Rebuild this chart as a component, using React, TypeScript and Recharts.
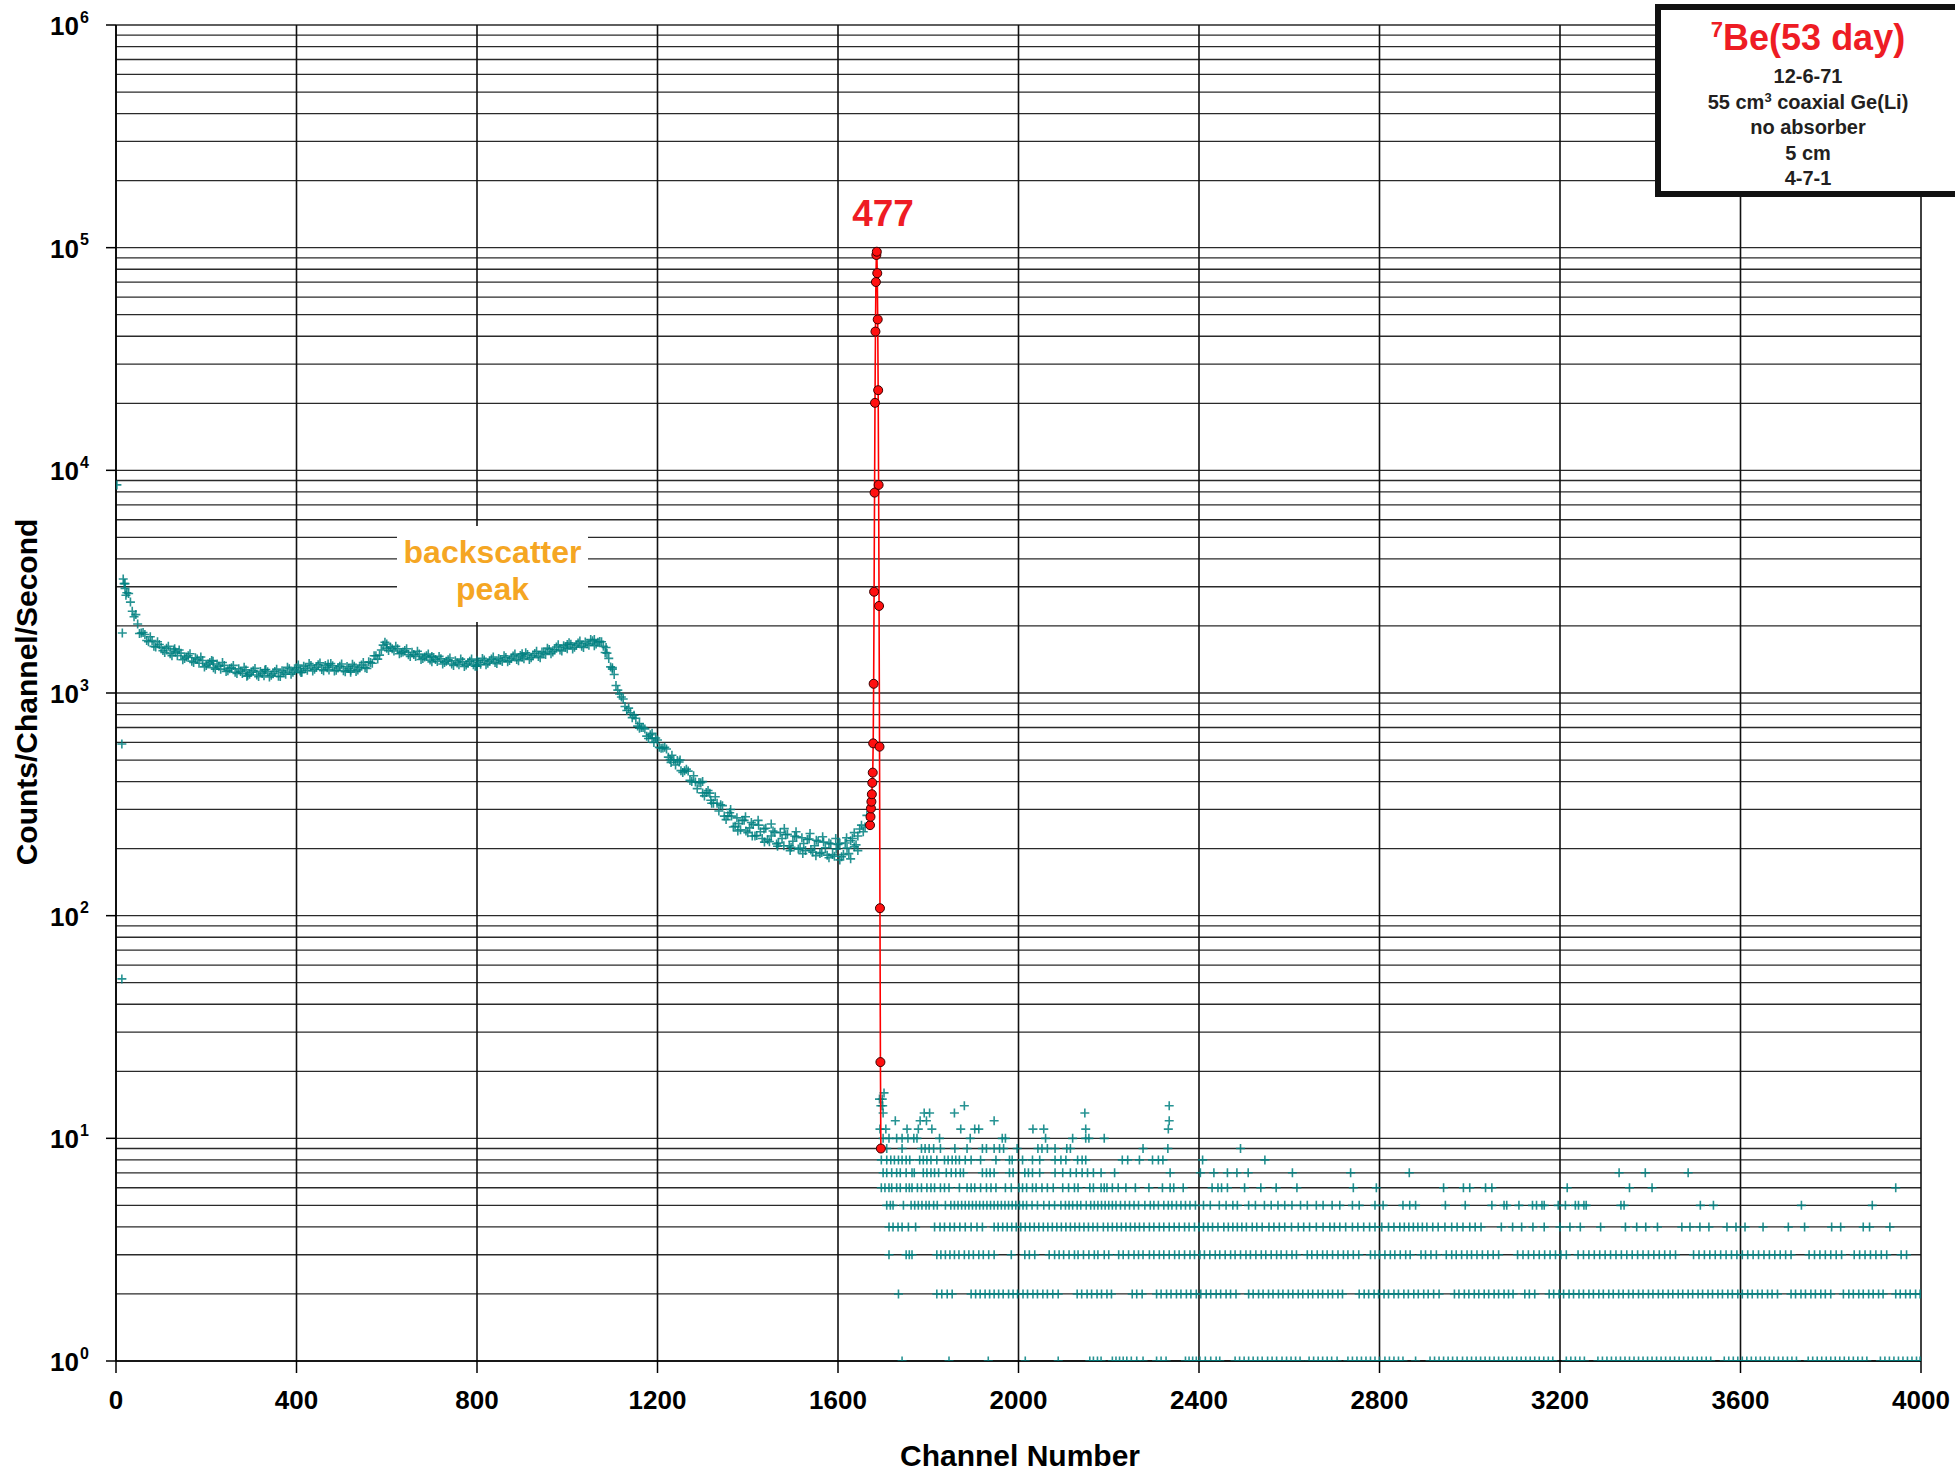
import { ComposedChart, Scatter, XAxis, YAxis, CartesianGrid } from 'recharts'

// continuum, one reading every 8 channels from channel 16
const contStart = 16
const contStep = 8
const contCounts = [
  3250, 2820, 2560, 2200, 2040, 1860, 1830, 1700, 1720, 1610, 1650, 1550, 1590, 1500, 1560, 1470, 1510, 1430, 1470, 1390,
  1440, 1360, 1400, 1330, 1370, 1300, 1350, 1280, 1330, 1260, 1300, 1240, 1285, 1225, 1270, 1215, 1260, 1205, 1250, 1195,
  1245, 1200, 1250, 1190, 1260, 1215, 1285, 1240, 1300, 1255, 1320, 1265, 1330, 1280, 1340, 1275, 1330, 1270, 1325, 1265,
  1320, 1260, 1315, 1265, 1320, 1270, 1335, 1300, 1380, 1360, 1470, 1480, 1640, 1590, 1610, 1545, 1580, 1515, 1550, 1485,
  1525, 1460, 1495, 1430, 1470, 1405, 1445, 1385, 1425, 1370, 1410, 1350, 1395, 1340, 1385, 1335, 1390, 1340, 1395, 1345,
  1405, 1360, 1420, 1370, 1430, 1385, 1445, 1400, 1465, 1415, 1475, 1425, 1490, 1440, 1505, 1460, 1530, 1490, 1570, 1530,
  1610, 1560, 1630, 1580, 1655, 1605, 1675, 1620, 1695, 1640, 1715, 1660, 1705, 1620, 1510, 1310, 1210, 1030, 960, 870,
  855, 775, 770, 695, 700, 640, 650, 600, 615, 565, 570, 515, 525, 475, 490, 440, 455, 405, 425, 372,
  395, 345, 365, 320, 342, 295, 312, 270, 290, 250, 275, 243, 268, 236, 262, 228, 255, 222, 247, 215,
  240, 210, 236, 206, 232, 203, 228, 199, 224, 196, 221, 193, 218, 190, 214, 187, 210, 185, 209, 184,
  212, 190, 222, 208, 245, 238, 282,
]

// second pass of readings, offset by 4 channels (from channel 20)
const contStartB = 20
const contCountsB = [
  3100, 2800, 2330, 2250, 1850, 1870, 1720, 1790, 1620, 1700, 1600, 1520, 1620, 1470, 1530, 1560, 1410, 1450, 1500, 1370,
  1420, 1450, 1310, 1350, 1400, 1280, 1320, 1370, 1250, 1285, 1330, 1225, 1250, 1305, 1200, 1240, 1290, 1185, 1225, 1275,
  1180, 1220, 1280, 1185, 1240, 1305, 1215, 1270, 1335, 1240, 1290, 1355, 1255, 1305, 1365, 1260, 1300, 1355, 1255, 1295,
  1350, 1245, 1290, 1345, 1250, 1300, 1370, 1290, 1370, 1470, 1420, 1560, 1690, 1550, 1580, 1620, 1500, 1530, 1580, 1460,
  1490, 1540, 1415, 1450, 1495, 1380, 1415, 1460, 1350, 1390, 1435, 1330, 1365, 1420, 1315, 1360, 1420, 1320, 1370, 1430,
  1340, 1390, 1450, 1355, 1405, 1470, 1380, 1430, 1495, 1395, 1450, 1515, 1415, 1470, 1540, 1440, 1510, 1590, 1500, 1565,
  1645, 1545, 1605, 1680, 1575, 1640, 1710, 1600, 1665, 1740, 1630, 1690, 1700, 1520, 1430, 1300, 1080, 990, 940, 835,
  815, 795, 710, 700, 690, 625, 627, 628, 570, 566, 560, 503, 500, 498, 448, 447, 446, 400, 398, 396,
  356, 357, 355, 320, 320, 315, 280, 281, 280, 252, 259, 268, 240, 248, 257, 229, 238, 245, 219, 228,
  237, 212, 222, 231, 206, 216, 226, 201, 211, 220, 197, 206, 216, 192, 202, 212, 188, 199, 211, 188,
  201, 217, 204, 228, 255, 250,
]

// stray readings off the main band
const extraCh = [
  2, 13, 13, 14, 18, 20, 22, 130, 215, 290, 330, 410, 470, 520, 600, 700, 800, 900, 1000, 1060,
  1086, 1100, 1160, 1188, 1230, 1250, 1300, 1318, 1362, 1378, 1395, 1410, 1423, 1437, 1452, 1466, 1481, 1494, 1507, 1522,
  1538, 1551, 1566, 1580, 1595, 1604, 1619, 1628, 1636, 1644,
]
const extraCounts = [
  8600, 590, 52, 1860, 3100, 2950, 2750, 1580, 1390, 1190, 1270, 1235, 1350, 1240, 1660, 1460, 1320, 1500, 1650, 1740,
  1600, 1280, 730, 660, 488, 500, 400, 330, 300, 240, 278, 228, 268, 214, 258, 205, 246, 196, 238, 190,
  234, 186, 226, 182, 222, 178, 224, 180, 236, 196,
]

// 477 keV photopeak
const peakCh = [
  1671, 1672, 1673, 1674, 1675, 1676, 1677, 1678, 1679, 1680, 1681, 1682, 1683, 1684, 1685, 1686, 1687, 1688, 1689, 1690,
  1691, 1692, 1693, 1694, 1695,
]
const peakCounts = [
  255, 278, 303, 325, 351, 395, 439, 594, 1100, 2850, 7940, 20100, 42000, 70100, 92700, 95900, 76800, 47600, 22900, 8600,
  2460, 574, 108, 22, 9,
]

// low-count channels above the peak, grouped by count
const level1 = [
  1742, 1846, 1933, 2015, 2088, 2158, 2166, 2175, 2183, 2208, 2216, 2224, 2232, 2240, 2250, 2262, 2276, 2306, 2316, 2327,
  2370, 2378, 2386, 2394, 2402, 2414, 2426, 2438, 2446, 2480, 2490, 2500, 2510, 2520, 2530, 2540, 2552, 2562, 2572, 2584,
  2594, 2604, 2614, 2624, 2644, 2654, 2664, 2674, 2684, 2694, 2706, 2730, 2740, 2750, 2760, 2770, 2780, 2790, 2800, 2812,
  2822, 2832, 2842, 2852, 2880, 2912, 2922, 2932, 2942, 2952, 2962, 2972, 2984, 2994, 3004, 3014, 3024, 3034, 3044, 3054,
  3064, 3074, 3084, 3094, 3104, 3114, 3124, 3134, 3144, 3154, 3164, 3174, 3184, 3214, 3224, 3234, 3244, 3254, 3284, 3294,
  3304, 3314, 3324, 3334, 3344, 3354, 3364, 3374, 3384, 3394, 3404, 3414, 3424, 3434, 3444, 3454, 3464, 3474, 3484, 3494,
  3504, 3514, 3524, 3534, 3564, 3574, 3584, 3594, 3604, 3614, 3624, 3634, 3644, 3654, 3664, 3674, 3684, 3694, 3704, 3714,
  3724, 3750, 3760, 3770, 3780, 3790, 3800, 3810, 3820, 3830, 3840, 3850, 3860, 3870, 3880, 3910, 3920, 3930, 3940, 3950,
  3960, 3970, 3980, 3990, 3998,
]
const level2 = [
  1734, 1819, 1830, 1842, 1853, 1895, 1905, 1915, 1926, 1936, 1946, 1956, 1966, 1978, 1988, 1998, 2010, 2020, 2032, 2042,
  2054, 2064, 2076, 2088, 2130, 2140, 2152, 2162, 2174, 2184, 2196, 2206, 2252, 2262, 2274, 2306, 2316, 2328, 2338, 2350,
  2360, 2372, 2382, 2394, 2404, 2416, 2426, 2438, 2448, 2460, 2470, 2482, 2510, 2520, 2532, 2542, 2554, 2564, 2576, 2586,
  2598, 2608, 2620, 2630, 2642, 2652, 2664, 2674, 2686, 2696, 2708, 2718, 2755, 2766, 2776, 2788, 2798, 2810, 2820, 2832,
  2842, 2854, 2864, 2876, 2886, 2898, 2908, 2920, 2932, 2966, 2976, 2988, 2998, 3010, 3020, 3032, 3042, 3054, 3064, 3076,
  3086, 3096, 3122, 3132, 3144, 3176, 3186, 3198, 3208, 3220, 3230, 3242, 3252, 3264, 3274, 3286, 3296, 3308, 3318, 3330,
  3340, 3352, 3362, 3374, 3384, 3396, 3406, 3418, 3428, 3440, 3450, 3462, 3472, 3484, 3494, 3506, 3516, 3528, 3538, 3550,
  3560, 3572, 3582, 3594, 3604, 3616, 3626, 3638, 3648, 3660, 3670, 3682, 3712, 3722, 3734, 3744, 3756, 3766, 3778, 3788,
  3800, 3828, 3840, 3850, 3862, 3872, 3884, 3894, 3906, 3916, 3944, 3954, 3966, 3976, 3988, 3998,
]
const level3 = [
  1713, 1751, 1758, 1764, 1819, 1828, 1838, 1848, 1858, 1868, 1880, 1890, 1900, 1912, 1922, 1934, 1946, 1984, 2014, 2024,
  2036, 2068, 2080, 2090, 2100, 2112, 2124, 2132, 2144, 2156, 2168, 2176, 2190, 2200, 2222, 2232, 2244, 2256, 2266, 2276,
  2290, 2300, 2312, 2322, 2334, 2346, 2356, 2368, 2380, 2390, 2402, 2412, 2424, 2436, 2446, 2458, 2470, 2480, 2492, 2504,
  2514, 2526, 2538, 2548, 2560, 2572, 2582, 2594, 2606, 2616, 2640, 2650, 2662, 2674, 2684, 2696, 2708, 2720, 2730, 2742,
  2754, 2780, 2790, 2800, 2812, 2824, 2834, 2846, 2858, 2868, 2892, 2902, 2914, 2926, 2948, 2960, 2970, 2982, 2994, 3004,
  3016, 3028, 3040, 3052, 3064, 3106, 3118, 3130, 3142, 3154, 3166, 3178, 3190, 3202, 3214, 3240, 3252, 3264, 3276, 3288,
  3300, 3312, 3324, 3336, 3348, 3360, 3372, 3384, 3396, 3408, 3420, 3432, 3444, 3456, 3496, 3508, 3520, 3532, 3544, 3556,
  3568, 3580, 3592, 3604, 3616, 3628, 3640, 3652, 3664, 3676, 3688, 3700, 3712, 3752, 3764, 3776, 3788, 3800, 3812, 3824,
  3852, 3864, 3876, 3888, 3900, 3912, 3924, 3956, 3968,
]
const level4 = [
  1713, 1722, 1733, 1742, 1756, 1772, 1814, 1826, 1836, 1848, 1858, 1870, 1882, 1895, 1908, 1920, 1946, 1955, 1965, 1975,
  1985, 1995, 2005, 2015, 2025, 2035, 2045, 2055, 2065, 2075, 2085, 2095, 2105, 2115, 2125, 2135, 2145, 2155, 2165, 2175,
  2188, 2198, 2208, 2218, 2228, 2238, 2248, 2258, 2268, 2278, 2290, 2300, 2312, 2322, 2334, 2345, 2356, 2368, 2378, 2390,
  2400, 2410, 2420, 2430, 2442, 2455, 2465, 2475, 2485, 2495, 2505, 2518, 2528, 2540, 2555, 2566, 2578, 2590, 2605, 2620,
  2632, 2645, 2660, 2675, 2690, 2700, 2712, 2725, 2740, 2752, 2765, 2778, 2790, 2805, 2820, 2832, 2845, 2855, 2865, 2875,
  2885, 2895, 2905, 2918, 2930, 2945, 2960, 2972, 2985, 3000, 3012, 3025, 3070, 3095, 3115, 3140, 3165, 3200, 3222, 3245,
  3290, 3345, 3370, 3390, 3416, 3470, 3488, 3510, 3530, 3570, 3590, 3610, 3650, 3706, 3742, 3802, 3822, 3872, 3886, 3931,
]
const level5 = [
  1708, 1716, 1722, 1745, 1762, 1770, 1778, 1786, 1795, 1802, 1812, 1820, 1838, 1850, 1858, 1866, 1874, 1882, 1890, 1898,
  1906, 1914, 1922, 1930, 1938, 1946, 1954, 1962, 1970, 1978, 1986, 1994, 2002, 2010, 2018, 2030, 2042, 2056, 2068, 2080,
  2094, 2104, 2112, 2120, 2130, 2138, 2150, 2160, 2168, 2176, 2184, 2192, 2200, 2208, 2216, 2226, 2236, 2246, 2256, 2266,
  2280, 2292, 2300, 2310, 2322, 2332, 2340, 2350, 2360, 2370, 2380, 2392, 2410, 2425, 2445, 2460, 2475, 2485, 2510, 2525,
  2545, 2560, 2575, 2590, 2606, 2625, 2640, 2660, 2675, 2695, 2712, 2740, 2755, 2790, 2808, 2852, 2867, 2880, 2946, 2990,
  3049, 3076, 3082, 3109, 3139, 3148, 3160, 3165, 3196, 3212, 3234, 3241, 3253, 3258, 3335, 3342, 3511, 3540, 3735, 3892,
]
const level6 = [
  1696, 1704, 1713, 1719, 1730, 1738, 1751, 1758, 1764, 1776, 1785, 1797, 1806, 1814, 1827, 1836, 1846, 1869, 1886, 1895,
  1903, 1916, 1929, 1939, 1950, 1971, 1984, 2001, 2009, 2018, 2031, 2039, 2052, 2064, 2077, 2098, 2111, 2124, 2132, 2158,
  2166, 2183, 2190, 2196, 2208, 2221, 2238, 2259, 2289, 2319, 2336, 2344, 2365, 2429, 2442, 2450, 2463, 2501, 2537, 2571,
  2617, 2742, 2793, 2942, 2986, 3000, 3035, 3049, 3216, 3354, 3404, 3944,
]
const level7 = [
  1700, 1708, 1719, 1730, 1738, 1751, 1764, 1769, 1789, 1797, 1806, 1814, 1823, 1840, 1851, 1861, 1871, 1878, 1920, 1929,
  1937, 1946, 1980, 1988, 2014, 2022, 2031, 2047, 2081, 2098, 2115, 2128, 2141, 2153, 2166, 2183, 2213, 2336, 2403, 2433,
  2463, 2484, 2509, 2607, 2736, 2866, 3331, 3389, 3484,
]
const level8 = [
  1696, 1708, 1717, 1725, 1734, 1742, 1751, 1759, 1781, 1789, 1797, 1806, 1819, 1836, 1844, 1853, 1861, 1869, 1882, 1895,
  1916, 1950, 1980, 1986, 2009, 2031, 2047, 2081, 2094, 2105, 2131, 2141, 2149, 2230, 2242, 2268, 2297, 2310, 2320, 2408,
  2546,
]
const level9 = [
  1708, 1742, 1785, 1793, 1802, 1812, 1827, 1859, 1886, 1920, 1929, 1946, 1958, 1967, 1997, 2043, 2052, 2064, 2081, 2107,
  2115, 2276, 2331, 2492,
]
const level10 = [
  1700, 1713, 1730, 1742, 1755, 1768, 1775, 1825, 1893, 1964, 1971, 2060, 2120, 2149, 2156, 2190,
]
const level11 = [1693, 1706, 1753, 1778, 1808, 1872, 1903, 1912, 2032, 2056, 2149, 2332]
const level12 = [1727, 1782, 1796, 1946, 2334]
const level13 = [1700, 1791, 1803, 1858, 2147]
const level14 = [1695, 1699, 1880, 2334]
const level15 = [1692, 1698]
const level16 = [1702]

const levelCounts = [1, 2, 3, 4, 5, 6, 7, 8, 9, 10, 11, 12, 13, 14, 15, 16]
const levelChannels = [
  level1, level2, level3, level4, level5, level6, level7, level8,
  level9, level10, level11, level12, level13, level14, level15, level16,
]

const xTicks = [0, 400, 800, 1200, 1600, 2000, 2400, 2800, 3200, 3600, 4000]
const yTicks = [
  1, 2, 3, 4, 5, 6, 7, 8, 9,
  10, 20, 30, 40, 50, 60, 70, 80, 90,
  100, 200, 300, 400, 500, 600, 700, 800, 900,
  1000, 2000, 3000, 4000, 5000, 6000, 7000, 8000, 9000,
  10000, 20000, 30000, 40000, 50000, 60000, 70000, 80000, 90000,
  100000, 200000, 300000, 400000, 500000, 600000, 700000, 800000, 900000,
  1000000,
]

const legendLines = ['12-6-71', '55 cm|3| coaxial Ge(Li)', 'no absorber', '5 cm', '4-7-1']

const TEAL = '#008080'
const RED = '#ee1c24'
const FONT = '"Liberation Sans", Arial, Helvetica, sans-serif'

const spectrum = [
  ...contCounts.map((v, i) => ({ ch: contStart + i * contStep, v })),
  ...contCountsB.map((v, i) => ({ ch: contStartB + i * contStep, v })),
  ...extraCh.map((ch, i) => ({ ch, v: extraCounts[i] })),
  ...levelChannels.flatMap((chs, i) => chs.map((ch) => ({ ch, v: levelCounts[i] }))),
]
const peak = peakCh.map((ch, i) => ({ ch, v: peakCounts[i] }))

function Plus(props: any) {
  const { cx, cy } = props
  if (cx == null || cy == null) return <g />
  return (
    <path
      d={`M${cx - 4.5},${cy}h9M${cx},${cy - 4.5}v9`}
      stroke={TEAL}
      strokeWidth={1.6}
      strokeOpacity={0.85}
      fill="none"
    />
  )
}

function Dot(props: any) {
  const { cx, cy } = props
  if (cx == null || cy == null) return <g />
  return <circle cx={cx} cy={cy} r={4.5} fill="#ff1010" stroke="#3a0000" strokeWidth={1} />
}

function YTick(props: any) {
  const { y, payload } = props
  const v = payload.value
  const n = Math.round(Math.log10(v))
  if (Math.abs(v - Math.pow(10, n)) > 1e-6 * v) return <g />
  return (
    <g>
      <line x1={106} x2={116} y1={y} y2={y} stroke="#000" strokeWidth={1.5} />
      <text x={79} y={y + 1} textAnchor="end" dominantBaseline="central" fontSize={26} fontWeight="bold" fill="#000" fontFamily={FONT}>
        10
      </text>
      <text x={80} y={y - 8} dominantBaseline="central" fontSize={16} fontWeight="bold" fill="#000" fontFamily={FONT}>
        {n}
      </text>
    </g>
  )
}

function LegendLine({ text, top }: { text: string; top: number }) {
  const parts = text.split('|')
  return (
    <div style={{ position: 'absolute', left: 1661, width: 294, top, textAlign: 'center', fontSize: 20, lineHeight: '24px', fontWeight: 'bold', color: '#231f20' }}>
      {parts[0]}
      {parts.length > 1 && <span style={{ fontSize: 13, position: 'relative', top: -7 }}>{parts[1]}</span>}
      {parts[2]}
    </div>
  )
}

export default function App() {
  return (
    <div style={{ position: 'absolute', left: 0, top: 0, width: 1955, height: 1471, overflow: 'hidden', background: '#fff', fontFamily: FONT }}>
      <ComposedChart width={1955} height={1471} margin={{ top: 25, right: 34, left: 16, bottom: 50 }}>
        <CartesianGrid horizontal={true} vertical={false} stroke="#2a2a2a" strokeWidth={1.3} />
        <CartesianGrid horizontal={false} vertical={true} stroke="#111" strokeWidth={1.6} />
        <XAxis
          type="number"
          dataKey="ch"
          domain={[0, 4000]}
          ticks={xTicks}
          interval={0}
          height={60}
          tickSize={12}
          tickMargin={18}
          axisLine={{ stroke: '#000', strokeWidth: 1.5 }}
          tickLine={{ stroke: '#000', strokeWidth: 1.5 }}
          tick={{ fill: '#000', fontSize: 26, fontWeight: 'bold', fontFamily: FONT }}
          allowDataOverflow
        />
        <YAxis
          type="number"
          dataKey="v"
          scale="log"
          domain={[1, 1000000]}
          ticks={yTicks}
          interval={0}
          width={100}
          tickLine={false}
          axisLine={{ stroke: '#000', strokeWidth: 1.5 }}
          tick={<YTick />}
          allowDataOverflow
        />
        <Scatter data={spectrum} shape={<Plus />} isAnimationActive={false} />
        <Scatter
          data={peak}
          shape={<Dot />}
          line={{ stroke: '#ff0000', strokeWidth: 1.6 }}
          lineType="joint"
          isAnimationActive={false}
        />
      </ComposedChart>

      {/* backscatter label sits on a white patch over the grid */}
      <div style={{ position: 'absolute', left: 397, top: 526, width: 191, height: 96, background: '#fff' }} />
      <div style={{ position: 'absolute', left: 397, top: 534, width: 191, textAlign: 'center', color: '#f5a623', fontSize: 32, lineHeight: '37px', fontWeight: 'bold' }}>
        backscatter
        <br />
        peak
      </div>

      <div style={{ position: 'absolute', left: 833, top: 192, width: 100, textAlign: 'center', color: RED, fontSize: 37, lineHeight: '44px', fontWeight: 'bold' }}>
        477
      </div>

      {/* info box, runs off the right edge */}
      <div style={{ position: 'absolute', left: 1655, top: 4, width: 320, height: 193, boxSizing: 'border-box', border: '6px solid #111', background: '#fff' }} />
      <div style={{ position: 'absolute', left: 1661, width: 294, top: 16, textAlign: 'center', fontSize: 36, lineHeight: '44px', fontWeight: 'bold', color: RED }}>
        <span style={{ fontSize: 22, position: 'relative', top: -13 }}>7</span>Be(53 day)
      </div>
      {legendLines.map((t, i) => (
        <LegendLine key={t} text={t} top={64 + i * 25.5} />
      ))}

      <div style={{ position: 'absolute', left: 820, top: 1437, width: 400, textAlign: 'center', fontSize: 30, lineHeight: '38px', fontWeight: 'bold', color: '#000' }}>
        Channel Number
      </div>
      <div
        style={{
          position: 'absolute',
          left: 27 - 250,
          top: 692 - 19,
          width: 500,
          textAlign: 'center',
          fontSize: 30,
          lineHeight: '38px',
          fontWeight: 'bold',
          color: '#000',
          transform: 'rotate(-90deg)',
        }}
      >
        Counts/Channel/Second
      </div>
    </div>
  )
}
